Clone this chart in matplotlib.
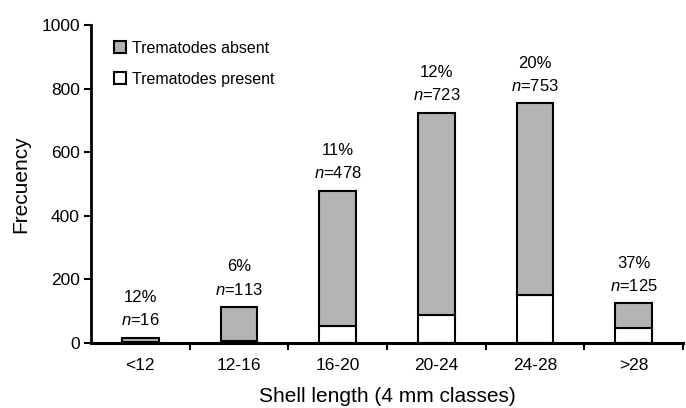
import matplotlib.pyplot as plt
import numpy as np

plt.rcParams['font.family'] = ['Liberation Sans', 'DejaVu Sans']
plt.rcParams['mathtext.fontset'] = 'custom'
plt.rcParams['mathtext.it'] = 'Liberation Sans:italic'
plt.rcParams['mathtext.rm'] = 'Liberation Sans'

# Data
classes = ['<12', '12-16', '16-20', '20-24', '24-28', '>28']
totals = [16, 113, 478, 723, 753, 125]
present = [2, 7, 53, 87, 151, 46]
pct_labels = ['12%', '6%', '11%', '12%', '20%', '37%']

absent = [t - p for t, p in zip(totals, present)]
x = np.arange(len(classes))

fig = plt.figure(figsize=(6.86, 4.08), dpi=100)
ax = fig.add_axes([0.1327, 0.159, 0.863, 0.78])

w = 0.37
ax.bar(x, present, width=w, color='white', edgecolor='black', linewidth=1.5,
       label='Trematodes present')
ax.bar(x, absent, width=w, bottom=present, color='#b3b3b3', edgecolor='black',
       linewidth=1.5, label='Trematodes absent')

# labels above each bar
for xi, t, pl in zip(x, totals, pct_labels):
    ax.text(xi, t + 30, '$n$=%d' % t, ha='center', va='bottom', fontsize=12)
    ax.text(xi, t + 103, pl, ha='center', va='bottom', fontsize=12)

ax.set_xlim(-0.5, 5.5)
ax.set_ylim(0, 1000)
ax.set_yticks([0, 200, 400, 600, 800, 1000])
ax.set_xticks(x)
ax.set_xticklabels(classes, fontsize=12.5)
ax.set_xticks(np.arange(0.5, 6, 1), minor=True)
ax.tick_params(axis='x', which='major', length=0, pad=11)
ax.tick_params(axis='x', which='minor', length=5, width=1.5, direction='out')
ax.tick_params(axis='y', labelsize=12.5, length=5, width=1.5, direction='out', pad=3)

ax.spines['top'].set_visible(False)
ax.spines['right'].set_visible(False)
ax.spines['left'].set_linewidth(2)
ax.spines['bottom'].set_linewidth(2.2)

ax.set_ylabel('Frecuency', fontsize=15, labelpad=8)
ax.set_xlabel('Shell length (4 mm classes)', fontsize=15, labelpad=10)

handles, labels = ax.get_legend_handles_labels()
ax.legend(handles[::-1], labels[::-1], loc='upper left', frameon=False,
          fontsize=11.5, handlelength=0.75, handleheight=0.75, handletextpad=0.35,
          labelspacing=1.0, bbox_to_anchor=(0.015, 0.995))

plt.savefig('out.png', dpi=100)
